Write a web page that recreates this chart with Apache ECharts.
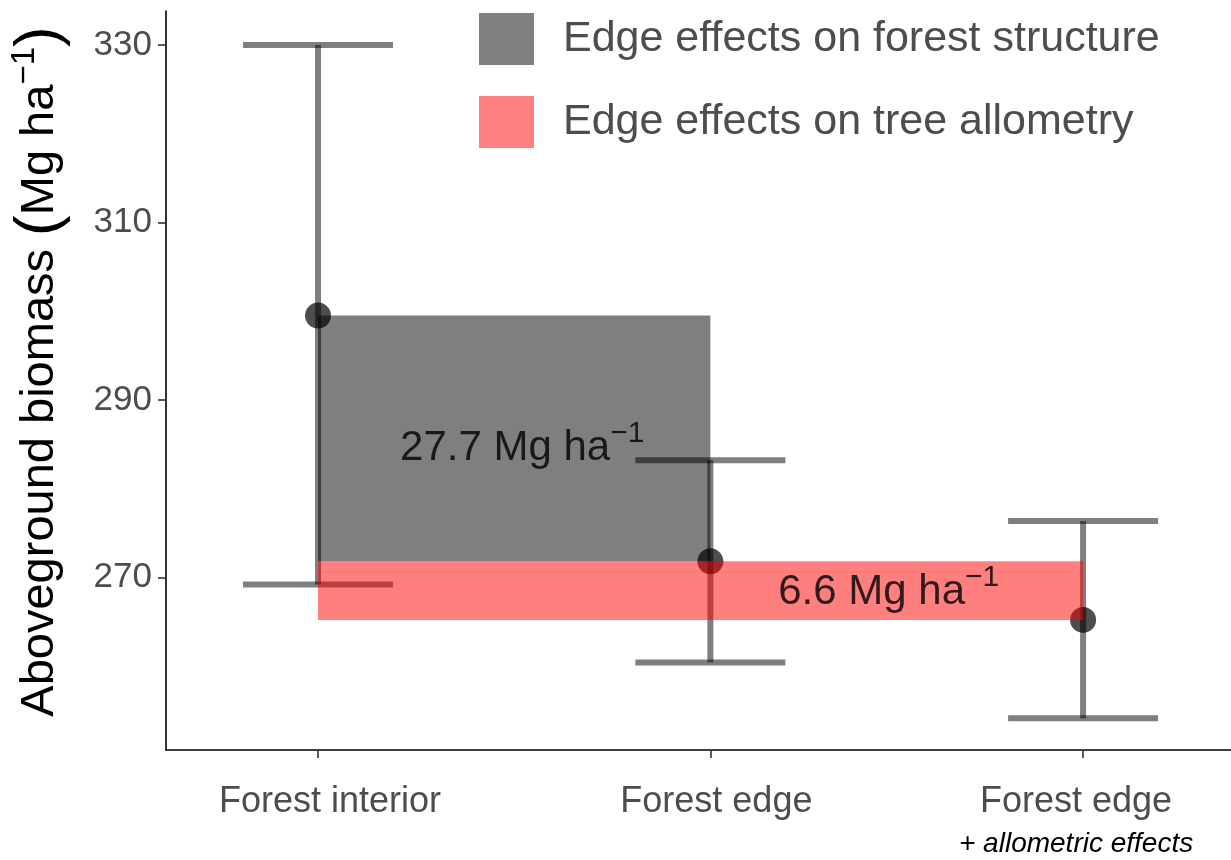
<!DOCTYPE html>
<html>
<head>
<meta charset="utf-8">
<title>Aboveground biomass: forest interior vs. edge</title>
<script src="https://cdn.jsdelivr.net/npm/echarts@6/dist/echarts.min.js"></script>
<style>
  html, body { margin: 0; padding: 0; background: #ffffff; }
  #chart { width: 1231px; height: 860px; }
</style>
</head>
<body>
<div id="chart"></div>
<script>
// Groups along the x axis and where each one sits on it
const groups = ['Forest interior', 'Forest edge', 'Forest edge'];
const groupSubtitles = ['', '', '+ allometric effects'];
const groupPos = [1, 2, 2.95];

// Mean aboveground biomass (Mg ha-1) and its interval
const biomassMean = [299.5, 271.8, 265.2];
const biomassLow = [269.2, 260.4, 254.1];
const biomassHigh = [330.0, 283.2, 276.35];

// Y axis ticks
const yTicks = [270, 290, 310, 330];

// Legend entries for the two effect bands
const effectNames = ['Edge effects on forest structure', 'Edge effects on tree allometry'];

const FONT = '"Liberation Sans", Arial, Helvetica, sans-serif';
const GREY_TEXT = '#4d4d4d';

// Effect sizes shown as text, taken from the same means as the bands
const structureEffect = (biomassMean[0] - biomassMean[1]).toFixed(1);
const allometryEffect = (biomassMean[1] - biomassMean[2]).toFixed(1);

function bandRender(fill) {
  return function (params, api) {
    const p1 = api.coord([api.value(0), api.value(2)]);
    const p2 = api.coord([api.value(1), api.value(3)]);
    return {
      type: 'rect',
      shape: { x: p1[0], y: p1[1], width: p2[0] - p1[0], height: p2[1] - p1[1] },
      style: { fill: fill }
    };
  };
}

const errorBarData = groupPos.map((x, i) => [x, biomassLow[i], biomassHigh[i]]);
const capHalf = 75;
const barStyle = { stroke: 'rgba(0,0,0,0.5)', lineWidth: 6 };

const superscriptRich = {
  v: { fontSize: 42, lineHeight: 60, color: '#000', fontFamily: FONT },
  s: { fontSize: 30, lineHeight: 30, verticalAlign: 'top', color: '#000', fontFamily: FONT }
};

// Small horizontal nudges of the category labels (left / right padding, px)
const labelPad = [[0, 0, 0, 24], [0, 0, 0, 12], [0, 14, 0, 0]];
const xRich = {};
labelPad.forEach((pad, i) => {
  xRich['a' + i] = { fontSize: 36, lineHeight: 40, color: GREY_TEXT, fontFamily: FONT, padding: pad };
  xRich['b' + i] = { fontSize: 28, lineHeight: 44, color: '#000', fontStyle: 'italic', fontFamily: FONT, padding: pad };
});

const chart = echarts.init(document.getElementById('chart'), null, { renderer: 'canvas' });

const option = {
  animation: false,
  backgroundColor: '#ffffff',
  textStyle: { fontFamily: FONT },
  grid: { left: 166, right: 0, top: 11, bottom: 110, containLabel: false },
  legend: {
    orient: 'vertical',
    left: 479,
    top: 13,
    padding: 0,
    itemWidth: 55,
    itemHeight: 52,
    itemGap: 31,
    icon: 'rect',
    selectedMode: false,
    textStyle: { fontSize: 43, color: GREY_TEXT, fontFamily: FONT, padding: [0, 0, 0, 24] },
    data: [
      { name: effectNames[0], itemStyle: { color: '#808080' } },
      { name: effectNames[1], itemStyle: { color: '#ff8080' } }
    ]
  },
  xAxis: {
    type: 'value',
    min: 0.6125,
    max: 3.327,
    splitLine: { show: false },
    axisLine: { show: true, lineStyle: { color: '#000', width: 1.6 } },
    axisTick: {
      show: true, length: 8, customValues: groupPos,
      lineStyle: { color: '#333', width: 1.6 }
    },
    axisLabel: {
      show: true,
      customValues: groupPos,
      margin: 32,
      formatter: function (val) {
        const i = groupPos.findIndex(p => Math.abs(p - val) < 1e-6);
        if (i < 0) return '';
        let s = '{a' + i + '|' + groups[i] + '}';
        if (groupSubtitles[i]) s += '\n{b' + i + '|' + groupSubtitles[i] + '}';
        return s;
      },
      rich: xRich
    }
  },
  yAxis: {
    type: 'value',
    min: 250.535,
    max: 333.83,
    splitLine: { show: false },
    axisLine: { show: true, lineStyle: { color: '#000', width: 1.6 } },
    axisTick: {
      show: true, length: 8, customValues: yTicks,
      lineStyle: { color: '#333', width: 1.6 }
    },
    axisLabel: {
      show: true, customValues: yTicks, margin: 14,
      fontSize: 35, color: GREY_TEXT, fontFamily: FONT
    },
    name: '{t|Aboveground biomass }{p|(}{t|Mg ha}{s|\u22121}{p|)}',
    nameLocation: 'middle',
    nameRotate: 90,
    nameGap: 94,
    nameTextStyle: {
      padding: [0, 0, 0, 18],
      rich: {
        t: { fontSize: 47, lineHeight: 64, color: '#000', fontFamily: FONT },
        p: { fontSize: 62, lineHeight: 64, color: '#000', fontFamily: FONT },
        s: { fontSize: 33, lineHeight: 33, verticalAlign: 'top', color: '#000', fontFamily: FONT }
      }
    }
  },
  series: [
    {
      name: effectNames[0],
      type: 'custom',
      z: 1,
      renderItem: bandRender('rgba(0,0,0,0.5)'),
      encode: { x: [0, 1], y: [2, 3] },
      itemStyle: { color: '#808080' },
      data: [[groupPos[0], groupPos[1], biomassMean[0], biomassMean[1]]]
    },
    {
      name: 'interval',
      type: 'custom',
      z: 2,
      encode: { x: 0, y: [1, 2] },
      renderItem: function (params, api) {
        const lo = api.coord([api.value(0), api.value(1)]);
        const hi = api.coord([api.value(0), api.value(2)]);
        return {
          type: 'group',
          children: [
            { type: 'line', shape: { x1: lo[0], y1: lo[1], x2: hi[0], y2: hi[1] }, style: barStyle },
            { type: 'line', shape: { x1: hi[0] - capHalf, y1: hi[1], x2: hi[0] + capHalf, y2: hi[1] }, style: barStyle },
            { type: 'line', shape: { x1: lo[0] - capHalf, y1: lo[1], x2: lo[0] + capHalf, y2: lo[1] }, style: barStyle }
          ]
        };
      },
      data: errorBarData
    },
    {
      name: 'mean',
      type: 'scatter',
      z: 3,
      symbol: 'circle',
      symbolSize: 26,
      itemStyle: { color: 'rgba(0,0,0,0.87)' },
      data: groupPos.map((x, i) => [x, biomassMean[i]])
    },
    {
      name: effectNames[1],
      type: 'custom',
      z: 4,
      renderItem: bandRender('rgba(255,0,0,0.5)'),
      encode: { x: [0, 1], y: [2, 3] },
      itemStyle: { color: '#ff8080' },
      data: [[groupPos[0], groupPos[2], biomassMean[1], biomassMean[2]]]
    },
    {
      name: 'effect size',
      type: 'scatter',
      z: 5,
      symbolSize: 0,
      silent: true,
      label: {
        show: true,
        position: 'inside',
        rich: superscriptRich
      },
      data: [
        {
          value: [(groupPos[0] + groupPos[1]) / 2, (biomassMean[0] + biomassMean[1]) / 2],
          label: { formatter: '{v|' + structureEffect + ' Mg ha}{s|\u22121}', offset: [8, 10] }
        },
        {
          value: [(groupPos[1] + groupPos[2]) / 2, (biomassMean[1] + biomassMean[2]) / 2],
          label: { formatter: '{v|' + allometryEffect + ' Mg ha}{s|\u22121}', offset: [-8, 2] }
        }
      ]
    }
  ]
};

chart.setOption(option);
</script>
</body>
</html>
